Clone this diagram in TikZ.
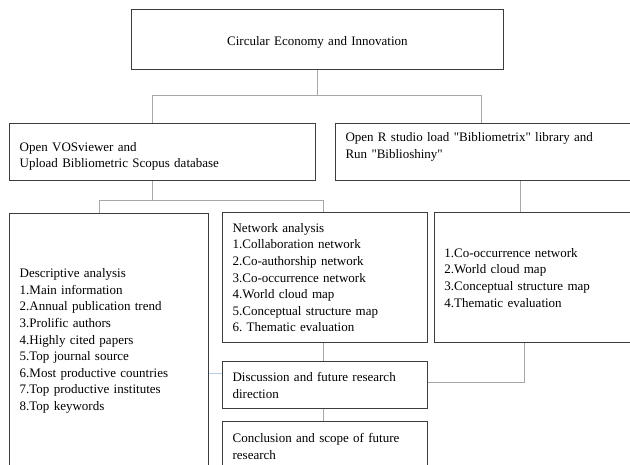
\documentclass[tikz,border=0pt]{standalone}
\usepackage{fontspec}
\setmainfont{Liberation Serif}[Ligatures=TeXOff]
\usepackage{xcolor}
\usetikzlibrary{positioning}

\definecolor{boxline}{HTML}{3C3C3C}
\definecolor{linkgray}{HTML}{A8A8A8}
\definecolor{linkblue}{HTML}{B5CCE4}

\begin{document}
\frenchspacing
\begin{tikzpicture}[x=1pt, y=-1pt,
    blk/.style={draw=boxline, line width=0.8pt, rectangle, align=left, inner xsep=10pt, inner ysep=0pt,
      font=\fontsize{13}{16.6}\selectfont},
    link/.style={draw=linkgray, line width=0.9pt},
    bluelink/.style={draw=linkblue, line width=0.9pt}]
  \useasboundingbox (0,0) rectangle (630,465);
  \clip (0,0) rectangle (630,465);

  \node[blk, align=center, text width=352.6pt, minimum height=60pt, text height=14pt, anchor=north west] (top) at (130.7,9.3) {Circular Economy and Innovation};
  \node[blk, text width=285.7pt, minimum height=57.3pt, text height=18pt, anchor=north west] (vos) at (9.3,122.7) {Open VOSviewer and\\Upload Bibliometric Scopus database};
  \node[blk, text width=300pt, minimum height=57.3pt, text depth=29pt, right=19.3pt of vos.north east, anchor=north west] (rst) {Open R studio load "Bibliometrix" library and\\Run "Biblioshiny"};

  \node[blk, text width=178.4pt, minimum height=254.7pt, anchor=north west] (desc) at (9.3,213.3) {Descriptive analysis\\1.Main information\\2.Annual publication trend\\3.Prolific authors\\4.Highly cited papers\\5.Top journal source\\6.Most productive countries\\7.Top productive institutes\\8.Top keywords};
  \node[blk, text width=184.7pt, minimum height=130pt, right=13.7pt of desc.north east, anchor=north west, yshift=1pt] (net) {Network analysis\\1.Collaboration network\\2.Co-authorship network\\3.Co-occurrence network\\4.World cloud map\\5.Conceptual structure map\\6. Thematic evaluation};
  \node[blk, text width=200pt, minimum height=130pt, right=6.3pt of net.north east, anchor=north west] (rlist) {1.Co-occurrence network\\2.World cloud map\\3.Conceptual structure map\\4.Thematic evaluation};
  \node[blk, text width=184.7pt, minimum height=46.6pt, below=18.4pt of net.south west, anchor=north west] (disc) {Discussion and future research\\direction};
  \node[blk, text width=184.7pt, minimum height=50pt, below=12pt of disc.south west, anchor=north west] (concl) {Conclusion and scope of future\\research};

  % branch points
  \coordinate (b1) at (152.7,95);
  \coordinate (b2) at (481.7,95);
  \coordinate (c1) at (99,200.7);
  \coordinate (c2) at (323.3,200.7);
  \coordinate (c3) at (520.7,200);
  \coordinate (d1) at (524.3,382.3);
  \coordinate (e1) at (215,373.7);

  \draw[link] (top.south) -- (top.south |- b1);
  \draw[link] (vos.north -| b1) -- (b1) -- (b2) -- (rst.north -| b2);
  \draw[link] (vos.south -| b1) -- (b1 |- c1);
  \draw[link] (desc.north -| c1) -- (c1) -- (c2) -- (net.north -| c2);
  \draw[link] (rst.south -| c3) -- (rlist.north -| c3);
  \draw[link] (net.south -| c2) -- (disc.north -| c2);
  \draw[link] (disc.south -| c2) -- (concl.north -| c2);
  \draw[link] (rlist.south -| d1) -- (d1) -- (disc.east |- d1);
  \draw[bluelink] (desc.east |- e1) -- (disc.west |- e1);
\end{tikzpicture}
\end{document}
